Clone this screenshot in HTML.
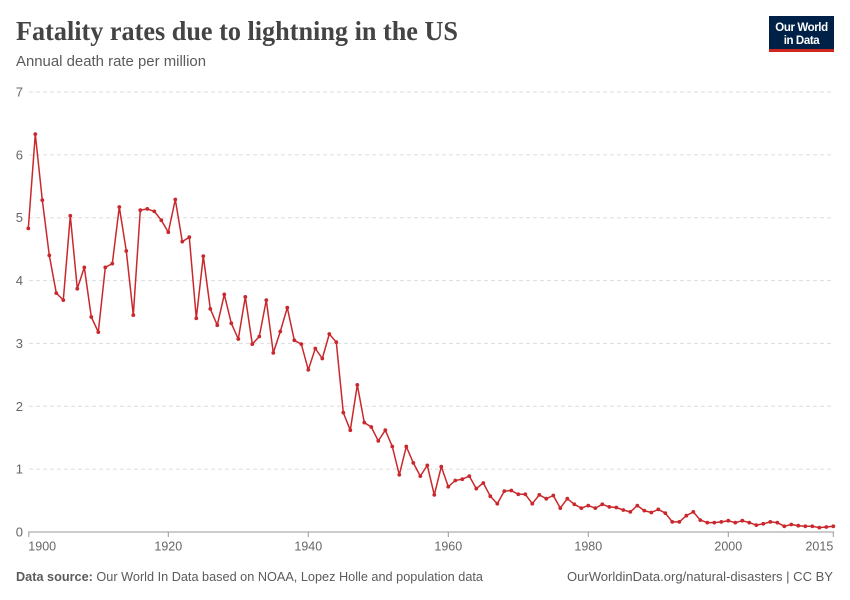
<!DOCTYPE html>
<html>
<head>
<meta charset="utf-8">
<style>
  html, body { margin: 0; padding: 0; background: #ffffff; }
  svg { display: block; }
  .sans { font-family: "Liberation Sans", "DejaVu Sans", sans-serif; }
  .serif { font-family: "Liberation Serif", "DejaVu Serif", serif; }
</style>
</head>
<body>
<svg width="850" height="600" viewBox="0 0 850 600" xmlns="http://www.w3.org/2000/svg">
  <defs>
    <marker id="dot" markerUnits="userSpaceOnUse" markerWidth="6" markerHeight="6" refX="3" refY="3">
      <circle cx="3" cy="3" r="1.9" fill="#c9282d"/>
    </marker>
  </defs>
  <rect x="0" y="0" width="850" height="600" fill="#ffffff"/>

  <!-- Title -->
  <text class="serif" x="16" y="40" style="font-family:'Liberation Serif',serif;font-weight:bold;font-size:27px" fill="#444444" textLength="442" lengthAdjust="spacingAndGlyphs">Fatality rates due to lightning in the US</text>
  <!-- Subtitle -->
  <text class="sans" x="16" y="66" font-size="14.5" fill="#5b5b5b" textLength="190" lengthAdjust="spacingAndGlyphs">Annual death rate per million</text>

  <!-- Logo -->
  <rect x="769" y="16" width="65" height="36" fill="#002147"/>
  <rect x="769" y="49" width="65" height="3" fill="#ce261e"/>
  <text class="sans" x="801.5" y="31" font-size="11.5" font-weight="bold" fill="#ffffff" text-anchor="middle" letter-spacing="-0.4">Our World</text>
  <text class="sans" x="801.5" y="44" font-size="11.5" font-weight="bold" fill="#ffffff" text-anchor="middle" letter-spacing="-0.4">in Data</text>

  <!-- Gridlines -->
  <g stroke="#dddddd" stroke-width="1" stroke-dasharray="4,3">
    <line x1="29" y1="92" x2="834" y2="92"/>
    <line x1="29" y1="154.86" x2="834" y2="154.86"/>
    <line x1="29" y1="217.71" x2="834" y2="217.71"/>
    <line x1="29" y1="280.57" x2="834" y2="280.57"/>
    <line x1="29" y1="343.43" x2="834" y2="343.43"/>
    <line x1="29" y1="406.29" x2="834" y2="406.29"/>
    <line x1="29" y1="469.14" x2="834" y2="469.14"/>
  </g>

  <!-- Y labels -->
  <g class="sans" font-size="13" fill="#666666" text-anchor="end">
    <text x="23" y="96.5">7</text>
    <text x="23" y="159.4">6</text>
    <text x="23" y="222.2">5</text>
    <text x="23" y="285.1">4</text>
    <text x="23" y="347.9">3</text>
    <text x="23" y="410.8">2</text>
    <text x="23" y="473.6">1</text>
    <text x="23" y="536.5">0</text>
  </g>

  <!-- X axis -->
  <line x1="28.3" y1="532" x2="834" y2="532" stroke="#999999" stroke-width="1"/>
  <g stroke="#999999" stroke-width="1">
    <line x1="28.8" y1="532" x2="28.8" y2="537"/>
    <line x1="168.3" y1="532" x2="168.3" y2="537"/>
    <line x1="308.3" y1="532" x2="308.3" y2="537"/>
    <line x1="448.3" y1="532" x2="448.3" y2="537"/>
    <line x1="588.3" y1="532" x2="588.3" y2="537"/>
    <line x1="728.3" y1="532" x2="728.3" y2="537"/>
    <line x1="833.3" y1="532" x2="833.3" y2="537"/>
  </g>
  <g class="sans" font-size="12.5" fill="#666666" text-anchor="middle">
    <text x="28.3" y="550.5" text-anchor="start">1900</text>
    <text x="168.3" y="550.5">1920</text>
    <text x="308.3" y="550.5">1940</text>
    <text x="448.3" y="550.5">1960</text>
    <text x="588.3" y="550.5">1980</text>
    <text x="728.3" y="550.5">2000</text>
    <text x="833.3" y="550.5" text-anchor="end">2015</text>
  </g>

  <!-- Series -->
  <g transform="translate(28.3,0)">
    <polyline fill="none" stroke="#c9282d" stroke-width="1.5" stroke-linejoin="round"
      marker-start="url(#dot)" marker-mid="url(#dot)" marker-end="url(#dot)"
      points="0,228.4 7,134.1 14,200.1 21,255.4 28,293.1 35,300.1 42,215.8 49,288.7 56,267.4 63,317.0
              70,332.1 77,267.4 84,263.6 91,207.0 98,251.0 105,315.1 112,210.2 119,208.9 126,211.4 133,220.2
              140,232.2 147,199.5 154,241.6 161,237.2 168,318.3 175,256.1 182,308.9 189,325.2 196,294.4 203,323.3
              210,339.0 217,296.9 224,344.1 231,336.5 238,300.1 245,352.9 252,331.5 259,307.6 266,340.3 273,344.1
              280,369.8 287,348.5 294,358.5 301,334.0 308,342.2 315,412.6 322,430.2 329,384.9 336,422.6 343,427.0
              350,440.9 357,430.2 364,446.5 371,474.8 378,446.5 385,462.9 392,476.1 399,465.4 406,494.9 413,466.6
              420,486.7 427,480.5 434,479.2 441,476.1 448,488.6 455,483.0 462,496.2 469,503.7 476,491.1 483,490.5
              490,494.3 497,494.3 504,503.7 511,494.9 518,498.7 525,495.5 532,508.1 539,498.7 546,504.3 553,508.1
              560,505.6 567,508.1 574,504.3 581,506.9 588,507.5 595,510.0 602,511.9 609,505.6 616,510.6 623,512.5
              630,509.4 637,513.1 644,521.9 651,521.9 658,515.7 665,511.9 672,520.1 679,522.6 686,522.6 693,521.9
              700,520.7 707,522.6 714,520.7 721,522.6 728,525.1 735,523.8 742,521.9 749,522.6 756,526.3 763,524.5
              770,525.7 777,526.3 784,526.3 791,527.6 798,527.0 805,526.3"/>
  </g>

  <!-- Footer -->
  <text class="sans" x="16" y="581" font-size="13" fill="#5b5b5b" textLength="467" lengthAdjust="spacingAndGlyphs"><tspan font-weight="bold">Data source:</tspan> Our World In Data based on NOAA, Lopez Holle and population data</text>
  <text class="sans" x="833" y="581" font-size="13" fill="#5b5b5b" text-anchor="end" textLength="266" lengthAdjust="spacingAndGlyphs">OurWorldinData.org/natural-disasters | CC BY</text>
</svg>
</body>
</html>
